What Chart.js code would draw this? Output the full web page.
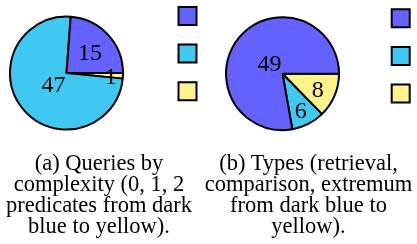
<!DOCTYPE html>
<html>
<head>
<meta charset="utf-8">
<script src="https://cdn.jsdelivr.net/npm/chart.js@4/dist/chart.umd.min.js"></script>
<style>
  body { margin: 0; background: #fff; }
  #wrap { position: relative; width: 417px; height: 244px; overflow: hidden; }
  canvas { position: absolute; }
  .cap {
    position: absolute; top: 152px;
    font: 22.5px/21px "Liberation Serif", "Times New Roman", serif;
    color: #000; text-align: center; white-space: nowrap;
    transform: translateX(-50%);
  }
</style>
</head>
<body>
<div id="wrap">
  <canvas id="pieA" width="233" height="172" style="left:-26px;top:-13px"></canvas>
  <canvas id="pieB" width="229" height="169" style="left:192px;top:-11px"></canvas>
  <div class="cap" style="left:99px">(a) Queries by<br>complexity (0, 1, 2<br>predicates from dark<br>blue to yellow).</div>
  <div class="cap" style="left:308.5px">(b) Types (retrieval,<br>comparison, extremum<br>from dark blue to<br>yellow).</div>
</div>
<script>
// colours: dark blue, cyan, yellow
var sliceColors = ["#6462ff", "#3fc8f1", "#fff38a"];

// (a) queries by complexity (0, 1, 2 predicates)
var complexityLabels = ["0 predicates", "1 predicate", "2 predicates"];
var complexityValues = [15, 47, 1];

// (b) query types
var typeLabels = ["retrieval", "comparison", "extremum"];
var typeValues = [49, 6, 8];

// numbers inside the slices (pgf-pie style: small slices get the number further out)
var sliceNumbers = {
  id: "sliceNumbers",
  afterDatasetsDraw: function(chart) {
    var ctx = chart.ctx;
    var meta = chart.getDatasetMeta(0);
    var values = chart.data.datasets[0].data;
    ctx.save();
    ctx.font = '24px "Liberation Serif", serif';
    ctx.fillStyle = "#000";
    ctx.textAlign = "center";
    ctx.textBaseline = "middle";
    meta.data.forEach(function(arc, i) {
      var p = arc.getProps(["x", "y", "startAngle", "endAngle", "outerRadius"], true);
      var span = (p.endAngle - p.startAngle) * 180 / Math.PI;
      var k = Math.max(Math.min(-0.3 * span / 110, 0), -0.5) + 0.8;
      var mid = (p.startAngle + p.endAngle) / 2;
      ctx.fillText(values[i], p.x + Math.cos(mid) * k * p.outerRadius, p.y + Math.sin(mid) * k * p.outerRadius + 2);
    });
    ctx.restore();
  }
};

function drawPie(id, labels, values, padding) {
  // pgf-pie goes counter-clockwise from 3 o'clock, Chart.js clockwise -> reverse
  var ctx = document.getElementById(id).getContext("2d");
  return new Chart(ctx, {
    type: "pie",
    data: {
      labels: labels.slice().reverse(),
      datasets: [{
        data: values.slice().reverse(),
        backgroundColor: sliceColors.slice().reverse(),
        borderColor: "#000",
        borderWidth: 2,
        hoverOffset: 0
      }]
    },
    options: {
      responsive: false,
      animation: false,
      events: [],
      rotation: 90,
      radius: 56.5,
      layout: { padding: padding },
      plugins: {
        tooltip: { enabled: false },
        legend: {
          position: "right",
          align: "start",
          reverse: true,
          labels: {
            boxWidth: 18,
            boxHeight: 18,
            padding: 19.6,
            font: { size: 1 },
            generateLabels: function(chart) {
              var items = Chart.overrides.pie.plugins.legend.labels.generateLabels(chart);
              items.forEach(function(it) { it.text = ""; it.lineWidth = 2; });
              return items;
            }
          }
        }
      }
    },
    plugins: [sliceNumbers]
  });
}

drawPie("pieA", complexityLabels, complexityValues, { left: 0.1, right: 0, top: 0.4, bottom: 0.4 });
drawPie("pieB", typeLabels, typeValues, { left: 0.9, right: 0.8, top: 0.7, bottom: 0.3 });
</script>
</body>
</html>
